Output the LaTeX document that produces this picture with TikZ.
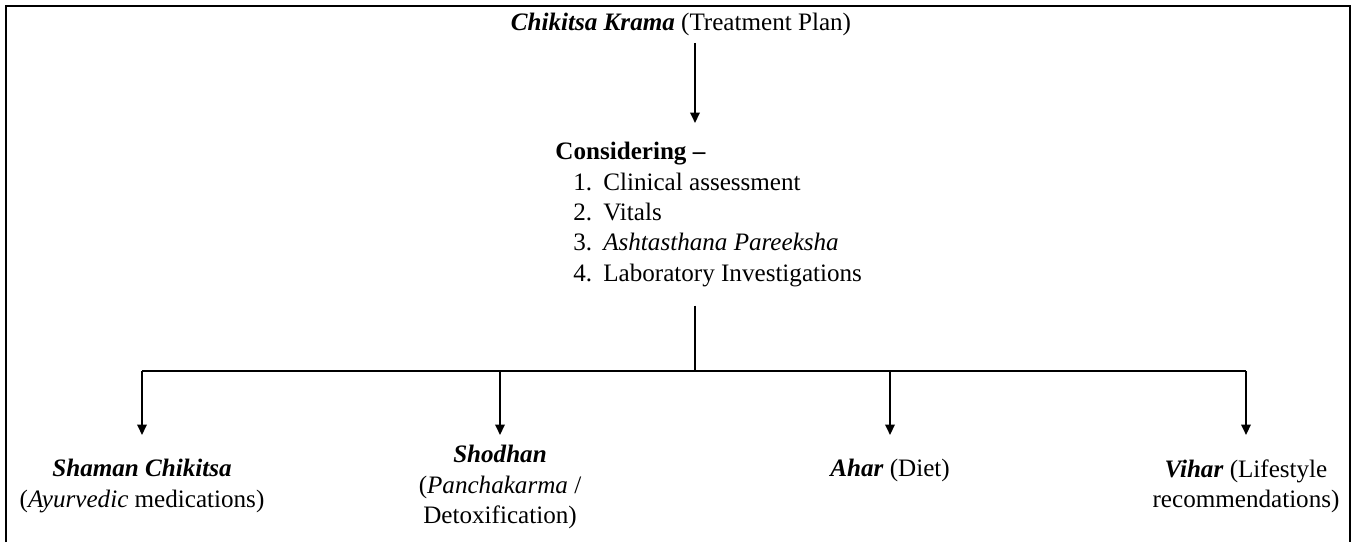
\documentclass[tikz,border=0pt]{standalone}
\usepackage{fontspec}
\setmainfont{Liberation Serif}
\usetikzlibrary{positioning, arrows.meta, calc}

\begin{document}
\begin{tikzpicture}[x=0.0168cm, y=-0.0168cm, font=\fontsize{12}{14.5}\selectfont,
    arr/.style={-{Triangle[width=4.5pt,length=5pt]}, line width=1pt}]
  \useasboundingbox (0,0) rectangle (1353,542);
  \draw[line width=1.1pt] (6,542) -- (6,6) -- (1350,6) -- (1350,542);

  \node (plan) at (681,24) {\textbf{\textit{Chikitsa Krama}} (Treatment Plan)};
  \node[anchor=north west, inner xsep=0pt, inner ysep=9pt, align=left] (cons) at (555,123)
    {\textbf{Considering --}\\
     \hspace*{8.6pt}\makebox[14.3pt][l]{1.}Clinical assessment\\
     \hspace*{8.6pt}\makebox[14.3pt][l]{2.}Vitals\\
     \hspace*{8.6pt}\makebox[14.3pt][l]{3.}\textit{Ashtasthana Pareeksha}\\
     \hspace*{8.6pt}\makebox[14.3pt][l]{4.}Laboratory Investigations};
  \coordinate (bus) at (695,371);
  \coordinate (tips) at (695,435);

  \node[align=center] (sham) at (142,486)
    {\textbf{\textit{Shaman Chikitsa}}\\(\textit{Ayurvedic} medications)};
  \node[align=center] (shod) at (500,487)
    {\textbf{\textit{Shodhan}}\\(\textit{Panchakarma} /\\Detoxification)};
  \node[align=center] (ahar) at (890,470) {\textbf{\textit{Ahar}} (Diet)};
  \node[align=center] (vihar) at (1246,486)
    {\textbf{\textit{Vihar}} (Lifestyle\\recommendations)};

  \draw[arr] (plan.south -| bus) -- (cons.north -| bus);
  \draw[line width=1pt] (cons.south -| bus) -- (bus);
  \draw[line width=1pt] (sham |- bus) -- (vihar |- bus);
  \foreach \n in {sham, shod, ahar, vihar}
    \draw[arr] (\n |- bus) -- (\n |- tips);
\end{tikzpicture}
\end{document}
